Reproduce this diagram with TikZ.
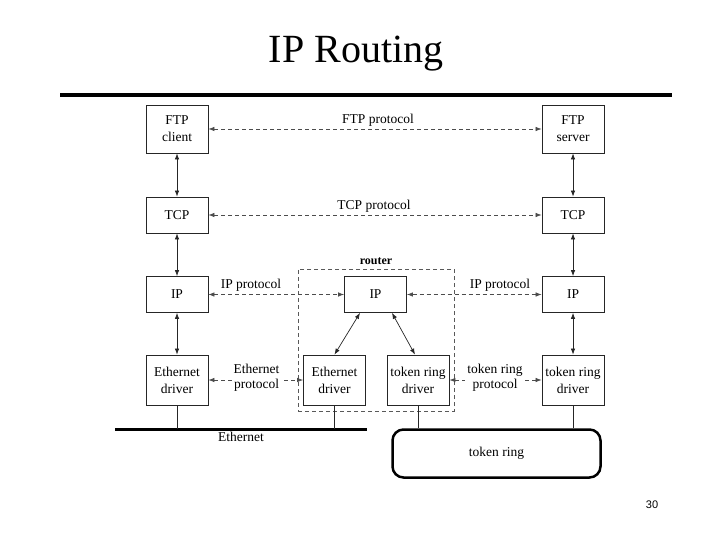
\documentclass[tikz,border=0pt]{standalone}
\usepackage{fontspec}
\setmainfont{Liberation Serif}
\newfontfamily\pagenofont{Liberation Sans}
\usetikzlibrary{arrows.meta}
\begin{document}
\begin{tikzpicture}[x=1pt,y=-1pt,
  layerbox/.style={draw=black!85, line width=0.8pt, rectangle, inner sep=0pt, minimum width=62pt, align=center, font=\fontsize{13.5}{17}\selectfont},
  tall/.style={minimum height=48pt},
  mid/.style={minimum height=36pt},
  drv/.style={minimum height=50pt},
  solidarrow/.style={line width=0.7pt, black!85, {Latex[length=6pt,width=4.5pt]}-{Latex[length=6pt,width=4.5pt]}},
  protoarrow/.style={line width=0.7pt, black!70, dash pattern=on 4pt off 3pt, {Latex[length=6pt,width=4.5pt]}-{Latex[length=6pt,width=4.5pt]}},
  protolabel/.style={font=\fontsize{13.5}{15.5}\selectfont, align=center, inner sep=0pt},
  gaplabel/.style={protolabel, fill=white, inner xsep=2pt},
  tap/.style={line width=0.8pt, black!85}
]
\useasboundingbox (0,0) rectangle (720,540);
% title
\node[anchor=base, font=\fontsize{40}{48}\selectfont, inner sep=0pt] (title) at (356,63) {IP Routing};
\draw[line width=4pt] (60,95) coordinate (rl) -- (672,95) coordinate (rr);
% page number
\node[font=\pagenofont\fontsize{11}{13}\selectfont, inner sep=0pt] (pgno) at (652,505) {30};

% left host
\node[layerbox, tall] (ftpc) at (177,129) {FTP\\client};
\node[layerbox, mid] (tcpl) at (177,215) {TCP};
\node[layerbox, mid] (ipl) at (177,294.5) {IP};
\node[layerbox, drv] (edl) at (177,380) {Ethernet\\driver};
% right host
\node[layerbox, tall] (ftps) at (573,129) {FTP\\server};
\node[layerbox, mid] (tcpr) at (573,215) {TCP};
\node[layerbox, mid] (ipr) at (573,294.5) {IP};
\node[layerbox, drv] (trr) at (573,380) {token ring\\driver};
% router
\node[draw=black!65, line width=0.7pt, dash pattern=on 4pt off 3pt, minimum width=156pt, minimum height=142pt, inner sep=0pt] (router) at (376,340) {};
\node[font=\bfseries\fontsize{12}{14}\selectfont, inner sep=0pt] (routerlbl) at (376,261) {router};
\node[layerbox, mid] (ipm) at (375.5,294.5) {IP};
\node[layerbox, drv] (edm) at (334.5,380) {Ethernet\\driver};
\node[layerbox, drv] (trm) at (418,380) {token ring\\driver};

% vertical arrows
\draw[solidarrow] (ftpc) -- (tcpl);
\draw[solidarrow] (tcpl) -- (ipl);
\draw[solidarrow] (ipl) -- (edl);
\draw[solidarrow] (ftps) -- (tcpr);
\draw[solidarrow] (tcpr) -- (ipr);
\draw[solidarrow] (ipr) -- (trr);
\draw[solidarrow] ([xshift=-15.5pt]ipm.south) -- (edm.north);
\draw[solidarrow] ([xshift=16.5pt]ipm.south) -- ([xshift=-3pt]trm.north);

% protocol arrows
\draw[protoarrow] (ftpc) -- (ftps);
\node[protolabel] (ftpp) at (378,120) {FTP protocol};
\draw[protoarrow] (tcpl) -- (tcpr);
\node[protolabel] (tcpp) at (374,206) {TCP protocol};
\draw[protoarrow] (ipl) -- (ipm);
\node[protolabel] (ippl) at (251,285) {IP protocol};
\draw[protoarrow] (ipm) -- (ipr);
\node[protolabel] (ippr) at (500,285) {IP protocol};
\draw[protoarrow] (edl) -- (edm);
\node[gaplabel] (ethp) at (256.5,378) {Ethernet\\protocol};
\draw[protoarrow] (trm) -- (trr);
\node[gaplabel] (trp) at (495,378) {token ring\\protocol};

% Ethernet bus
\coordinate (ethL) at (115,429);
\coordinate (ethR) at (367,429);
\draw[line width=3pt] (ethL) -- (ethR);
\node[protolabel] (ethlbl) at (241,437) {Ethernet};
\draw[tap] (edl.south) -- (edl.south |- ethL);
\draw[tap] (edm.south) -- (edm.south |- ethL);

% token ring
\node[draw, line width=2.5pt, rounded corners=11pt, minimum width=208pt, minimum height=48pt, inner sep=0pt, font=\fontsize{13.5}{17}\selectfont] (ring) at (496.5,453.5) {token ring};
\draw[tap] (trm.south) -- (trm.south |- ring.north);
\draw[tap] (trr.south) -- (trr.south |- ring.north);
\end{tikzpicture}
\end{document}
